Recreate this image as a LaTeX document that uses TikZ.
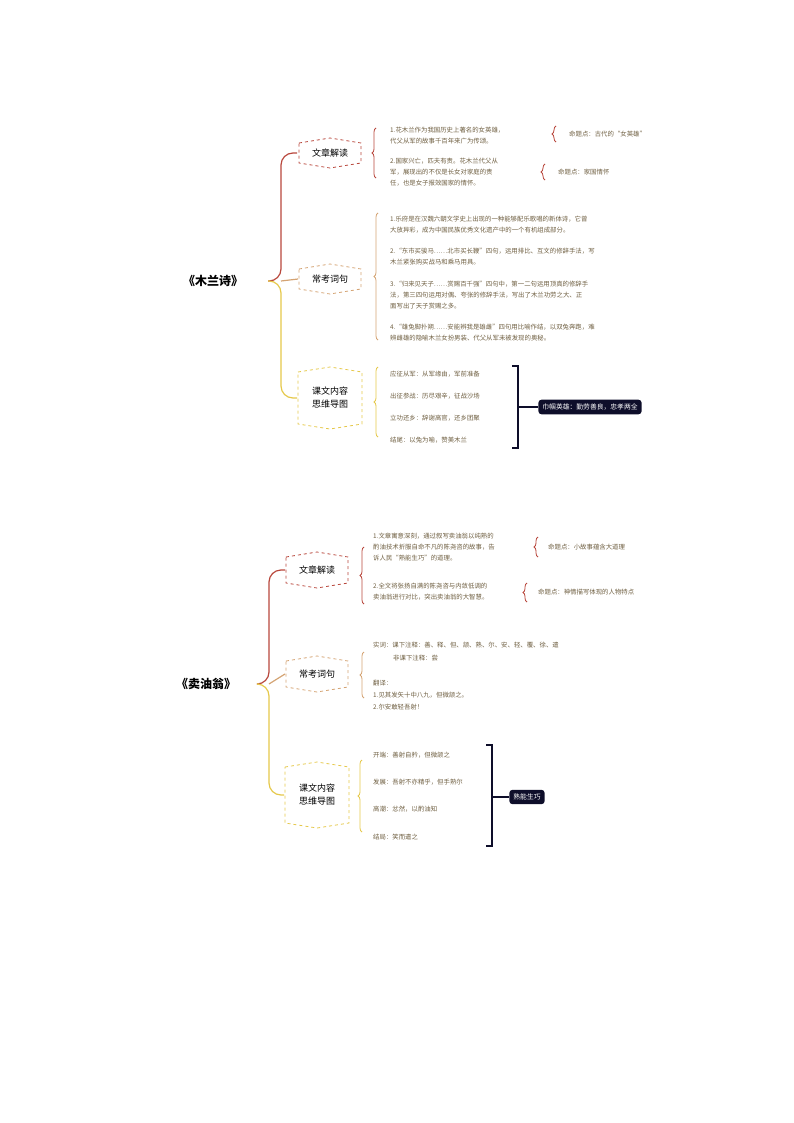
\documentclass[tikz,border=0pt]{standalone}
\usepackage{fontspec}
\setmainfont{Noto Sans CJK SC}
\usetikzlibrary{decorations.pathreplacing}
\definecolor{cr}{HTML}{B8473C}
\definecolor{ct}{HTML}{D4A373}
\definecolor{cy}{HTML}{E5C84A}
\definecolor{tx}{HTML}{6E5E40}
\definecolor{dk}{HTML}{0E0E2A}
\newcommand{\hexa}[4]{% name, color, halfw, halfh
  \draw[#2,dashed,line width=0.8pt] ([xshift=-#3pt,yshift=#4pt-5pt]#1.center) -- ([yshift=#4pt]#1.center) -- ([xshift=#3pt,yshift=#4pt-5pt]#1.center) -- ([xshift=#3pt,yshift=-#4pt+5pt]#1.center) -- ([yshift=-#4pt]#1.center) -- ([xshift=-#3pt,yshift=-#4pt+5pt]#1.center) -- cycle;}
\tikzset{
  title/.style={font=\fontsize{12}{14}\selectfont\bfseries},
  mid/.style={font=\fontsize{9}{13}\selectfont,align=center},
  txt/.style={font=\fontsize{6.4}{11}\selectfont,text=tx,anchor=west,align=left,inner sep=0},
  brc/.style={decorate,decoration={brace,amplitude=4pt,mirror},line width=0.8pt},
  dark/.style={fill=dk,text=white,rounded corners=3pt,font=\fontsize{6.8}{8}\selectfont,inner sep=4pt},
  br/.style={line width=1.2pt}
}
\begin{document}
\begin{tikzpicture}[x=1pt,y=-1pt]
\useasboundingbox (0,0) rectangle (794,1123);
% ===== part 1
\node[title] (t1) at (213,281) {《木兰诗》};
\node[mid] (a1) at (330,153) {文章解读};
\node[mid] (b1) at (330,279) {常考词句};
\node[mid] (c1) at (330,398) {课文内容\\思维导图};
\hexa{a1}{cr}{31}{15}
\hexa{b1}{ct}{31}{15}
\hexa{c1}{cy}{32}{31}
\coordinate (j1) at (268,281);
\draw[cr,br,rounded corners=12] (j1) -- (281,281) -- (281,153) -- (297,153);
\draw[cy,br,rounded corners=12] (j1) -- (281,281) -- (281,398) -- (297,398);
\draw[ct,br] (281,281) -- (298,279);
\draw[cr,brc] (376,128) -- (376,178);
\node[txt] (a1x) at (390,136) {1.花木兰作为我国历史上著名的女英雄，\\代父从军的故事千百年来广为传颂。};
\node[txt] (a1y) at (390,172) {2.国家兴亡，匹夫有责。花木兰代父从\\军，展现出的不仅是长女对家庭的责\\任，也是女子报效国家的情怀。};
\draw[cr,brc] (556,126) -- (556,142);
\node[txt] (m1) at (569,134) {命题点：古代的“女英雄”};
\draw[cr,brc] (545,164) -- (545,180);
\node[txt] (m2) at (558,172) {命题点：家国情怀};
\draw[ct,brc] (378,213) -- (378,340);
\node[txt] at (390,225) {1.乐府是在汉魏六朝文学史上出现的一种能够配乐歌唱的新体诗，它曾\\大放异彩，成为中国民族优秀文化遗产中的一个有机组成部分。};
\node[txt] at (390,257) {2.“东市买骏马……北市买长鞭”四句，运用排比、互文的修辞手法，写\\木兰紧张购买战马和乘马用具。};
\node[txt] at (390,295) {3.“归来见天子……赏赐百千强”四句中，第一二句运用顶真的修辞手\\法，第三四句运用对偶、夸张的修辞手法，写出了木兰功劳之大、正\\面写出了天子赏赐之多。};
\node[txt] at (390,333) {4.“雄兔脚扑朔……安能辨我是雄雌”四句用比喻作结，以双兔奔跑，难\\辨雌雄的隐喻木兰女扮男装、代父从军未被发现的奥秘。};
\draw[cy,brc] (378,367) -- (378,437);
\node[txt] at (390,374) {应征从军：从军缘由，军前准备};
\node[txt] at (390,396) {出征参战：历尽艰辛，征战沙场};
\node[txt] at (390,418) {立功还乡：辞谢高官，还乡团聚};
\node[txt] at (390,440) {结尾：以兔为喻，赞美木兰};
\node[dark] (d1) at (590,407) {巾帼英雄：勤劳善良，忠孝两全};
\draw[dk,br] (512,366) -- (518,366) -- (518,448) -- (512,448);
\draw[dk,br] (518,407) -- (d1.west);
% ===== part 2
\node[title] (t2) at (206,684) {《卖油翁》};
\node[mid] (a2) at (317,570) {文章解读};
\node[mid] (b2) at (317,674) {常考词句};
\node[mid] (c2) at (317,795) {课文内容\\思维导图};
\hexa{a2}{cr}{31}{18}
\hexa{b2}{ct}{31}{18}
\hexa{c2}{cy}{32}{33}
\coordinate (j2) at (259,684);
\draw[cr,br,rounded corners=12] (j2) -- (269,684) -- (269,570) -- (285,570);
\draw[cy,br,rounded corners=12] (j2) -- (269,684) -- (269,795) -- (284,795);
\draw[ct,br] (269,684) -- (285,674);
\draw[cr,brc] (364,547) -- (364,604);
\node[txt] (a2x) at (373,547) {1.文章寓意深刻，通过叙写卖油翁以纯熟的\\酌油技术折服自命不凡的陈尧咨的故事，告\\诉人民“熟能生巧”的道理。};
\node[txt] (a2y) at (373,592) {2.全文将张扬自满的陈尧咨与内敛低调的\\卖油翁进行对比，突出卖油翁的大智慧。};
\draw[cr,brc] (538,537) -- (538,557);
\node[txt] at (548,547) {命题点：小故事蕴含大道理};
\draw[cr,brc] (527,583) -- (527,602);
\node[txt] at (538,592) {命题点：神情描写体现的人物特点};
\draw[ct,brc] (364,652) -- (364,698);
\node[txt] at (373,645) {实词：课下注释：善、释、但、颔、熟、尔、安、轻、覆、徐、遣};
\node[txt] at (393,658) {非课下注释：尝};
\node[txt] at (373,683) {翻译：};
\node[txt] at (373,695) {1.见其发矢十中八九，但微颔之。};
\node[txt] at (373,707) {2.尔安敢轻吾射！};
\draw[cy,brc] (362,760) -- (362,832);
\node[txt] at (373,755) {开端：善射自矜，但微颔之};
\node[txt] at (373,782) {发展：吾射不亦精乎，但手熟尔};
\node[txt] at (373,809) {高潮：忿然，以酌油知};
\node[txt] at (373,837) {结局：笑而遣之};
\node[dark] (d2) at (527,797) {熟能生巧};
\draw[dk,br] (486,745) -- (492,745) -- (492,846) -- (486,846);
\draw[dk,br] (492,797) -- (d2.west);
\end{tikzpicture}
\end{document}
